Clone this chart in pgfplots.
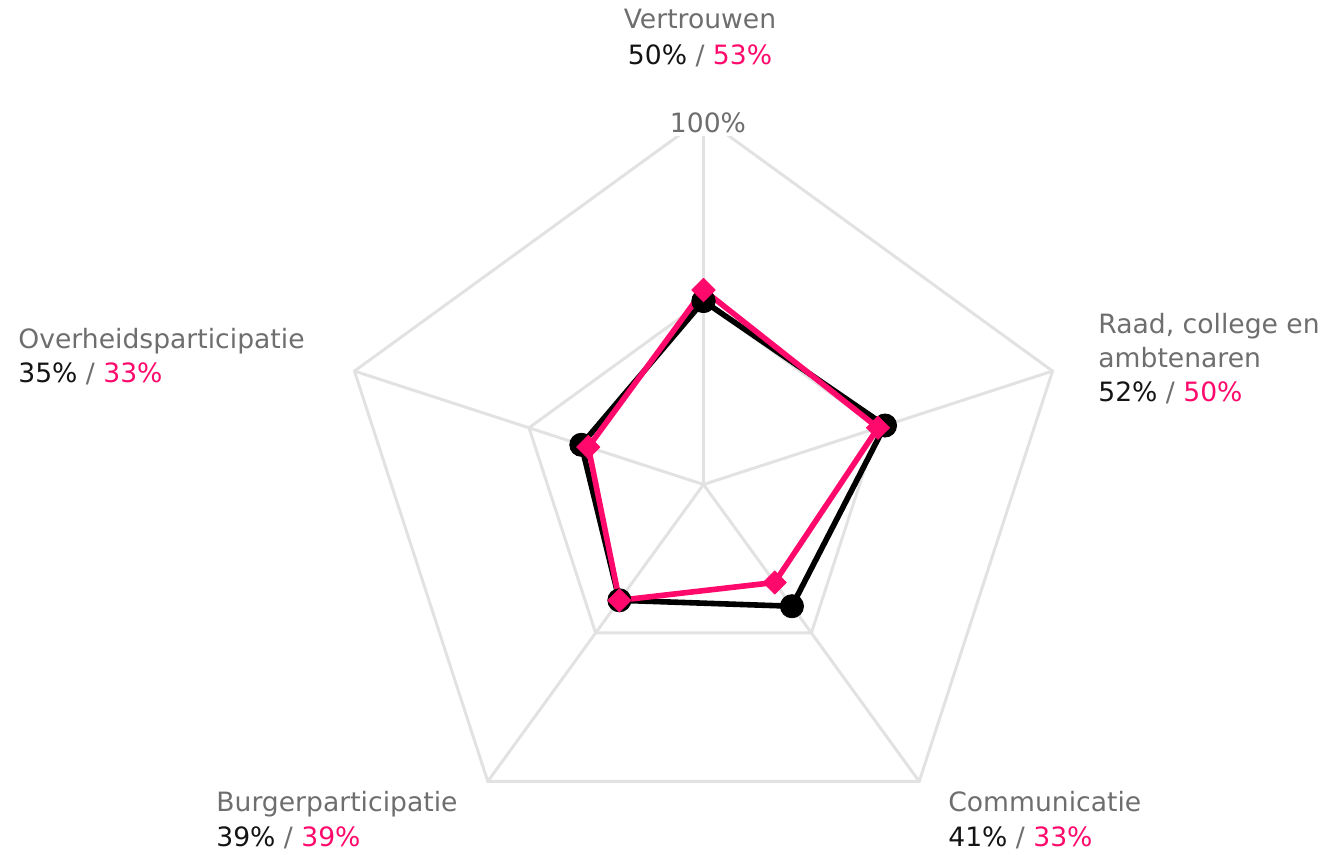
\documentclass[border=0pt]{standalone}
\usepackage{fontspec}
\setmainfont{DejaVu Sans}
\usepackage{pgfplots}
\pgfplotsset{compat=1.18}
\definecolor{pinkc}{RGB}{255,10,108}
\definecolor{gridc}{RGB}{226,226,226}
\definecolor{labc}{RGB}{110,110,110}
\definecolor{numc}{RGB}{20,20,20}
\begin{document}
\begin{tikzpicture}
\begin{axis}[
  at={(0,0)}, anchor=origin,
  x=1.835pt, y=1.835pt,
  xmin=-191.7, xmax=168.5, ymin=-100.95, ymax=132.0,
  hide axis, clip=false,
]
% grid pentagons
\addplot[gridc, line width=1.5pt, line join=miter, mark=none, data cs=polar]
  coordinates {(90,100) (18,100) (-54,100) (-126,100) (162,100) (90,100) (18,100)};
\addplot[gridc, line width=1.5pt, line join=miter, mark=none, data cs=polar]
  coordinates {(90,50) (18,50) (-54,50) (-126,50) (162,50) (90,50) (18,50)};
% spokes
\addplot[gridc, line width=1.5pt, mark=none, data cs=polar] coordinates {(90,0) (90,100)};
\addplot[gridc, line width=1.5pt, mark=none, data cs=polar] coordinates {(18,0) (18,100)};
\addplot[gridc, line width=1.5pt, mark=none, data cs=polar] coordinates {(-54,0) (-54,100)};
\addplot[gridc, line width=1.5pt, mark=none, data cs=polar] coordinates {(-126,0) (-126,100)};
\addplot[gridc, line width=1.5pt, mark=none, data cs=polar] coordinates {(162,0) (162,100)};
% series 1 (black)
\addplot[black, line width=2.8pt, line join=round, line cap=round, data cs=polar,
  mark=*, mark size=5.8pt, mark options={fill=black, line width=0.4pt}]
  coordinates {(90,50) (18,52) (-54,41) (-126,39) (162,35) (90,50)};
% series 2 (pink)
\addplot[pinkc, line width=2.8pt, line join=round, line cap=round, data cs=polar,
  mark=square*, mark size=4.1pt, mark options={fill=pinkc, line width=0.4pt, rotate=45}]
  coordinates {(90,53) (18,50) (-54,33) (-126,39) (162,33) (90,53)};
\end{axis}
\begin{scope}[every node/.style={inner sep=0pt, font=\fontsize{13.3}{17}\selectfont}]
\node[anchor=base, fill=white, inner sep=1.5pt, text=labc] at (2.25pt,175.75pt) {100\%};
\node[anchor=base, text=labc] at (-1.75pt,227.75pt) {Vertrouwen};
\node[anchor=base] at (-1.75pt,209.75pt) {\textcolor{numc}{50\%} \textcolor{labc}{/} \textcolor{pinkc}{53\%}};
\node[anchor=base west, text=labc] at (197.25pt,75.25pt) {Raad, college en};
\node[anchor=base west, text=labc] at (197.25pt,58.25pt) {ambtenaren};
\node[anchor=base west] at (197.25pt,41.25pt) {\textcolor{numc}{52\%} \textcolor{labc}{/} \textcolor{pinkc}{50\%}};
\node[anchor=base west, text=labc] at (-342.75pt,67.75pt) {Overheidsparticipatie};
\node[anchor=base west] at (-342.75pt,50.75pt) {\textcolor{numc}{35\%} \textcolor{labc}{/} \textcolor{pinkc}{33\%}};
\node[anchor=base west, text=labc] at (-243.75pt,-163.75pt) {Burgerparticipatie};
\node[anchor=base west] at (-243.75pt,-181.25pt) {\textcolor{numc}{39\%} \textcolor{labc}{/} \textcolor{pinkc}{39\%}};
\node[anchor=base west, text=labc] at (122.25pt,-163.75pt) {Communicatie};
\node[anchor=base west] at (122.25pt,-181.25pt) {\textcolor{numc}{41\%} \textcolor{labc}{/} \textcolor{pinkc}{33\%}};
\end{scope}
\pgfresetboundingbox
\path[use as bounding box] (-351.75pt,-185.25pt) rectangle (309.25pt,242.25pt);
\end{tikzpicture}
\end{document}
